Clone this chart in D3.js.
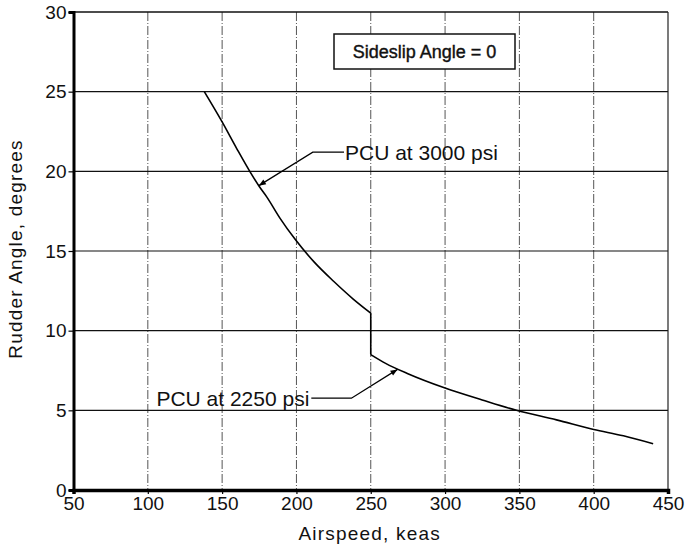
<!DOCTYPE html>
<html>
<head>
<meta charset="utf-8">
<script src="https://cdn.jsdelivr.net/npm/d3@7"></script>
<style>
  body { margin: 0; background: #fff; }
  svg { display: block; font-family: "Liberation Sans", Arial, sans-serif; }
  .tick text { font-size: 19px; fill: #111; }
</style>
</head>
<body>
<div id="chart"></div>
<script>
// rudder angle vs airspeed
const speed3000 = [138, 150, 160, 168.6, 175, 180, 189, 199, 212, 225, 238, 250];
const angle3000 = [25, 23.1, 21.4, 20, 19.05, 18.4, 17.05, 15.75, 14.3, 13.1, 12.0, 11.1];
const speed2250 = [250, 260, 275, 300, 325, 348, 375, 400, 420, 440];
const angle2250 = [8.5, 7.95, 7.3, 6.4, 5.65, 5.0, 4.4, 3.8, 3.4, 2.9];

const xTicks = [50, 100, 150, 200, 250, 300, 350, 400, 450];
const yTicks = [0, 5, 10, 15, 20, 25, 30];

const legendText = "Sideslip Angle = 0";
// callouts: text, arrow tip, elbow, end of leader (data units)
const callouts = [
    { label: "PCU at 3000 psi", tip: [174.7, 19.1], elbow: [211, 21.2], end: [232, 21.2], side: "right" },
    { label: "PCU at 2250 psi", tip: [268, 7.57], elbow: [237, 5.76], end: [210, 5.76], side: "left" }
];

const width = 685, height = 547;
const margin = { top: 12, right: 17, bottom: 57, left: 73.5 };
const w = width - margin.left - margin.right,
    h = height - margin.top - margin.bottom;

const svg = d3.select("#chart").append("svg")
    .attr("width", width)
    .attr("height", height);

const defs = svg.append("defs");
defs.append("marker")
    .attr("id", "arrow")
    .attr("viewBox", "0 0 10 10")
    .attr("refX", 10).attr("refY", 5)
    .attr("markerWidth", 11).attr("markerHeight", 7)
    .attr("markerUnits", "userSpaceOnUse")
    .attr("orient", "auto")
    .append("path")
    .attr("d", "M0,1 L10,5 L0,9 Z")
    .attr("fill", "#000");

const g = svg.append("g")
    .attr("transform", "translate(" + margin.left + "," + margin.top + ")");

const x = d3.scaleLinear().domain([50, 450]).range([0, w]);
const y = d3.scaleLinear().domain([0, 30]).range([h, 0]);

// vertical dash-dot grid
g.append("g").selectAll("line")
    .data(xTicks.slice(1, -1))
    .join("line")
    .attr("x1", d => x(d)).attr("x2", d => x(d))
    .attr("y1", 0).attr("y2", h)
    .attr("stroke", "#555")
    .attr("stroke-width", 1)
    .attr("stroke-dasharray", "9,2,1,2");

// horizontal solid grid
g.append("g").selectAll("line")
    .data(yTicks.slice(1, -1))
    .join("line")
    .attr("x1", 0).attr("x2", w)
    .attr("y1", d => y(d)).attr("y2", d => y(d))
    .attr("stroke", "#111")
    .attr("stroke-width", 1.2);

// top and right frame
g.append("line").attr("x1", 0).attr("x2", w).attr("y1", 0).attr("y2", 0)
    .attr("stroke", "#111").attr("stroke-width", 1.5);
g.append("line").attr("x1", w).attr("x2", w).attr("y1", 0).attr("y2", h)
    .attr("stroke", "#222").attr("stroke-width", 1.2);

// axes
const xAxis = g.append("g")
    .attr("transform", "translate(0," + h + ")")
    .call(d3.axisBottom(x).tickValues(xTicks).tickSize(4).tickPadding(3));
const yAxis = g.append("g")
    .call(d3.axisLeft(y).tickValues(yTicks).tickSize(5).tickPadding(2));

xAxis.select(".domain").attr("stroke-width", 3.5).attr("stroke", "#000");
yAxis.select(".domain").attr("stroke-width", 3).attr("stroke", "#000");
xAxis.selectAll(".tick line").attr("stroke-width", 1.2);
yAxis.selectAll(".tick line").attr("stroke-width", 1.2);

// curves
const line = d3.line()
    .x(d => x(d[0]))
    .y(d => y(d[1]))
    .curve(d3.curveMonotoneX);

const seg3000 = speed3000.map((s, i) => [s, angle3000[i]]);
const seg2250 = speed2250.map((s, i) => [s, angle2250[i]]);

g.append("path").datum(seg3000)
    .attr("d", line).attr("fill", "none")
    .attr("stroke", "#000").attr("stroke-width", 1.6);
g.append("path").datum(seg2250)
    .attr("d", line).attr("fill", "none")
    .attr("stroke", "#000").attr("stroke-width", 1.6);
// pressure switch drop at 250 keas
g.append("path").datum([seg3000[seg3000.length - 1], seg2250[0]])
    .attr("d", d3.line().x(d => x(d[0])).y(d => y(d[1])))
    .attr("fill", "none")
    .attr("stroke", "#000").attr("stroke-width", 1.6);

// callouts
callouts.forEach(c => {
    g.append("path")
        .datum([c.end, c.elbow, c.tip])
        .attr("d", d3.line().x(d => x(d[0])).y(d => y(d[1])))
        .attr("fill", "none")
        .attr("stroke", "#000")
        .attr("stroke-width", 1.3)
        .attr("marker-end", "url(#arrow)");
    g.append("text")
        .attr("x", c.side === "right" ? x(c.end[0]) + 1 : x(c.end[0]) - 2)
        .attr("y", y(c.end[1]))
        .attr("dy", "0.35em")
        .attr("text-anchor", c.side === "right" ? "start" : "end")
        .attr("font-size", 21)
        .attr("fill", "#111")
        .text(c.label);
});

// legend box
const lg = g.append("g")
    .attr("transform", "translate(" + (334 - margin.left) + "," + (34 - margin.top) + ")");
lg.append("rect")
    .attr("width", 181).attr("height", 35)
    .attr("fill", "#fff")
    .attr("stroke", "#111").attr("stroke-width", 1.5);
lg.append("text")
    .attr("x", 90.5).attr("y", 18)
    .attr("dy", "0.35em")
    .attr("text-anchor", "middle")
    .attr("font-size", 18)
    .attr("fill", "#111")
    .attr("stroke", "#111").attr("stroke-width", 0.4)
    .text(legendText);

// axis titles
svg.append("text")
    .attr("x", margin.left + w / 2 - 1)
    .attr("y", 533)
    .attr("dy", "0.35em")
    .attr("text-anchor", "middle")
    .attr("font-size", 19)
    .attr("letter-spacing", 1.2)
    .attr("fill", "#111")
    .text("Airspeed, keas");

svg.append("text")
    .attr("transform", "translate(15,249) rotate(-90)")
    .attr("dy", "0.35em")
    .attr("text-anchor", "middle")
    .attr("font-size", 19)
    .attr("letter-spacing", 1.2)
    .attr("fill", "#111")
    .text("Rudder Angle, degrees");
</script>
</body>
</html>
